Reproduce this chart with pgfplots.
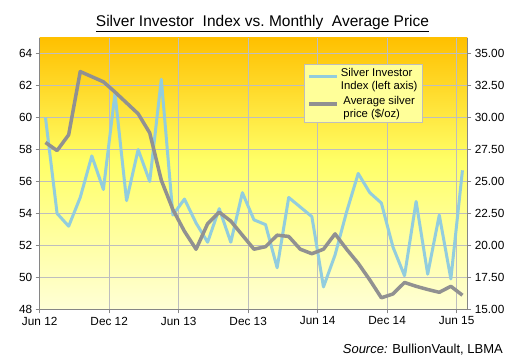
\documentclass[border=0pt]{standalone}
\usepackage{pgfplots}
\pgfplotsset{compat=1.18}
\usepackage{fontspec}
\setmainfont{Liberation Sans}
\definecolor{bgtop}{RGB}{255,192,0}
\definecolor{bgmid}{RGB}{255,255,102}
\definecolor{bgbot}{RGB}{255,255,214}
\definecolor{sblue}{RGB}{146,205,222}
\definecolor{sgray}{RGB}{145,145,145}
\definecolor{gridc}{RGB}{190,190,190}
\definecolor{axc}{RGB}{134,134,134}
\definecolor{legfill}{RGB}{255,255,153}
\pgfdeclareverticalshading{bgshade}{100bp}{color(0bp)=(bgbot); color(25bp)=(bgbot); color(52.5bp)=(bgmid); color(75bp)=(bgtop); color(100bp)=(bgtop)}
\begin{document}
\begin{tikzpicture}
\path[use as bounding box] (0,0) rectangle (511pt,359pt);
\pgfplotsset{
  common/.style={
    at={(39.7pt,49.7pt)}, anchor=south west,
    scale only axis, width=427.6pt, height=271.6pt,
    xmin=0, xmax=36.92,
    tick align=outside, major tick length=4pt,
    tick style={axc, line width=0.8pt},
    axis line style={axc, line width=1pt, -},
    ticklabel style={font=\fontsize{11.8}{13}\selectfont},
    /pgf/number format/assume math mode=true,
  }
}
\begin{axis}[common,
  ymin=48, ymax=65,
  axis x line*=bottom, axis y line*=left,
  xtick={0,6,...,36},
  xticklabels={Jun 12,Dec 12,Jun 13,Dec 13,Jun 14,Dec 14,Jun 15},
  ytick={48,50,...,64},
  grid=major, major grid style={gridc, line width=0.8pt},
  axis background/.style={shading=bgshade},
]
\addplot[sblue, line width=3pt, line join=round] coordinates {
(0.5,60.0)(1.5,54.0)(2.5,53.2)(3.5,55.0)(4.5,57.6)(5.5,55.5)(6.5,61.5)(7.5,54.8)
(8.5,58.0)(9.5,56.0)(10.5,62.4)(11.5,53.9)(12.5,54.9)(13.5,53.4)(14.5,52.2)(15.5,54.3)
(16.5,52.2)(17.5,55.3)(18.5,53.6)(19.5,53.3)(20.5,50.6)(21.5,55.0)(22.5,54.4)(23.5,53.8)
(24.5,49.4)(25.5,51.4)(26.5,54.1)(27.5,56.5)(28.5,55.3)(29.5,54.65)(30.5,51.9)(31.5,50.1)
(32.5,54.75)(33.5,50.2)(34.5,53.9)(35.5,49.9)(36.5,56.7)};
\end{axis}
\begin{axis}[common,
  ymin=15, ymax=36.25,
  axis y line*=right, axis x line=none,
  ytick={15,17.5,...,35},
  yticklabel style={/pgf/number format/.cd, fixed, fixed zerofill, precision=2},
  legend style={at={(rel axis cs:0.618,0.903)}, anchor=north west,
    fill=legfill, draw=gridc, line width=0.8pt,
    font=\fontsize{11.3}{13}\selectfont,
    cells={align=left}, inner xsep=3pt, inner ysep=2pt,
    row sep=1pt},
  legend image code/.code={\draw[#1] (0pt,3.5pt) -- (28pt,3.5pt);},
]
\addlegendimage{sblue, line width=3pt}
\addlegendentry{Silver Investor\\Index (left axis)}
\addplot[sgray, line width=3.5pt, line join=round] coordinates {
(0.5,28.05)(1.5,27.42)(2.5,28.65)(3.5,33.6)(4.5,33.2)(5.5,32.8)(6.5,32.0)(7.5,31.15)
(8.5,30.3)(9.5,28.8)(10.5,25.1)(11.5,22.8)(12.5,21.1)(13.5,19.7)(14.5,21.7)(15.5,22.6)
(16.5,21.9)(17.5,20.8)(18.5,19.7)(19.5,19.9)(20.5,20.8)(21.5,20.7)(22.5,19.7)(23.5,19.35)
(24.5,19.7)(25.5,20.9)(26.5,19.7)(27.5,18.6)(28.5,17.3)(29.5,15.9)(30.5,16.2)(31.5,17.1)
(32.5,16.8)(33.5,16.55)(34.5,16.33)(35.5,16.8)(36.5,16.1)};
\addlegendentry{Average silver\\price (\$/oz)}
\end{axis}
\node[anchor=base, font=\fontsize{15.5}{18}\selectfont] at (262.5pt,332.3pt)
  {\underline{Silver Investor\ \ Index vs.\ Monthly\ \ Average Price}};
\node[anchor=base east, font=\fontsize{13}{15}\selectfont, inner sep=0pt] at (503pt,5.5pt)
  {\textit{Source:} BullionVault, LBMA};
\end{tikzpicture}
\end{document}
